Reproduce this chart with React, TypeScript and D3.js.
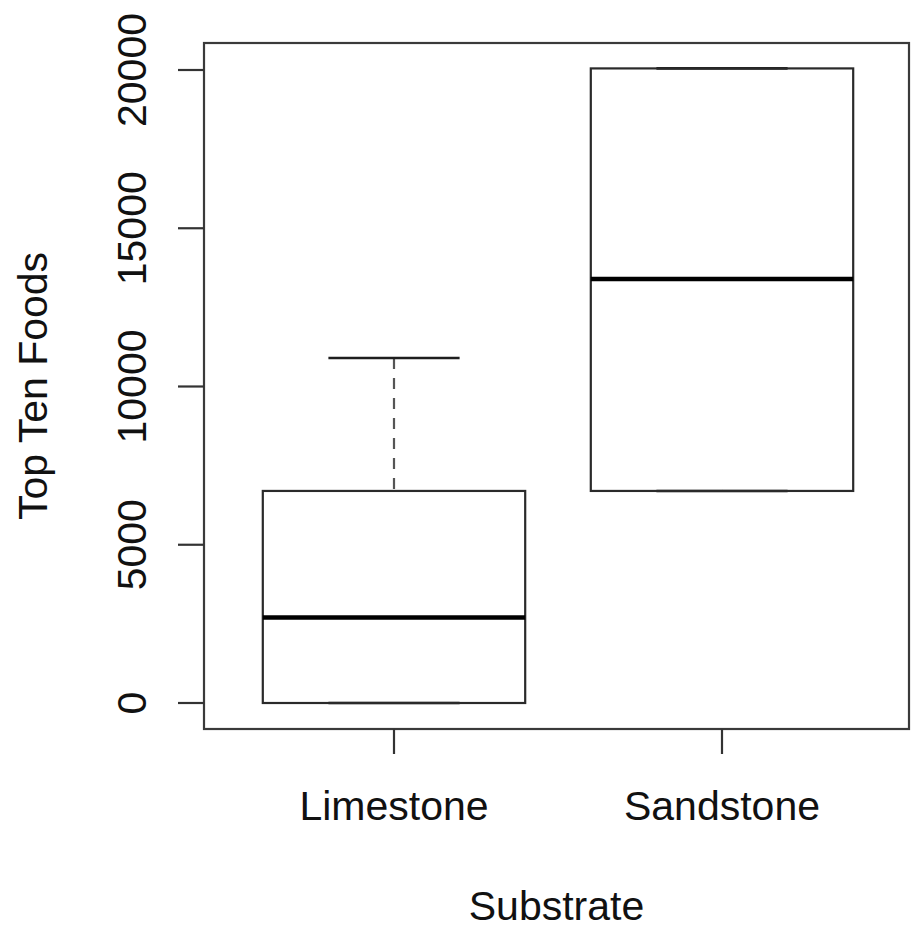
import React from "react";
import * as d3 from "d3";

const categories = ["Limestone", "Sandstone"];
const lowerWhisker = [0, 6700];
const q1 = [0, 6700];
const median = [2700, 13400];
const q3 = [6700, 20050];
const upperWhisker = [10900, 20050];
const yTicks = [0, 5000, 10000, 15000, 20000];
const xTitle = "Substrate";
const yTitle = "Top Ten Foods";

const W = 914;
const H = 929;
const frame = { left: 204, right: 909, top: 43, bottom: 729 };
const FONT = "'Liberation Sans', Arial, Helvetica, sans-serif";
const FS = 41;

export default function App() {
  const x = d3.scaleLinear().domain([1, 2]).range([394, 722]);
  const y = d3.scaleLinear().domain([0, 20000]).range([703, 70]);
  const unit = x(2) - x(1);
  const boxHalf = unit * 0.4;
  const capHalf = unit * 0.2;
  const boxStroke = "#2a2a2a";

  return (
    <svg
      width={W}
      height={H}
      style={{ position: "absolute", left: 0, top: 0, background: "#fff" }}
      fontFamily={FONT}
    >
      <rect x={0} y={0} width={W} height={H} fill="#fff" />
      {categories.map((c, i) => {
        const cx = x(i + 1);
        return (
          <g key={c}>
            <line
              x1={cx}
              x2={cx}
              y1={y(upperWhisker[i])}
              y2={y(q3[i])}
              stroke="#555"
              strokeWidth={2.2}
              strokeDasharray="11 9"
            />
            <line
              x1={cx}
              x2={cx}
              y1={y(lowerWhisker[i])}
              y2={y(q1[i])}
              stroke="#555"
              strokeWidth={2.2}
              strokeDasharray="11 9"
            />
            <line
              x1={cx - capHalf}
              x2={cx + capHalf}
              y1={y(upperWhisker[i])}
              y2={y(upperWhisker[i])}
              stroke="#1e1e1e"
              strokeWidth={2.6}
            />
            <line
              x1={cx - capHalf}
              x2={cx + capHalf}
              y1={y(lowerWhisker[i])}
              y2={y(lowerWhisker[i])}
              stroke="#1e1e1e"
              strokeWidth={2.6}
            />
            <rect
              x={cx - boxHalf}
              y={y(q3[i])}
              width={boxHalf * 2}
              height={y(q1[i]) - y(q3[i])}
              fill="none"
              stroke={boxStroke}
              strokeWidth={2.2}
            />
            <line
              x1={cx - boxHalf}
              x2={cx + boxHalf}
              y1={y(median[i])}
              y2={y(median[i])}
              stroke="#000"
              strokeWidth={4.5}
            />
          </g>
        );
      })}
      <rect
        x={frame.left}
        y={frame.top}
        width={frame.right - frame.left}
        height={frame.bottom - frame.top}
        fill="none"
        stroke="#3a3a3a"
        strokeWidth={2.2}
      />
      {yTicks.map((t) => (
        <g key={t}>
          <line x1={frame.left - 26} x2={frame.left} y1={y(t)} y2={y(t)} stroke="#333" strokeWidth={2.2} />
          <text
            transform={`translate(146,${y(t)}) rotate(-90)`}
            textAnchor="middle"
            fontSize={FS}
            fill="#111"
          >
            {String(t)}
          </text>
        </g>
      ))}
      {categories.map((c, i) => (
        <g key={c}>
          <line x1={x(i + 1)} x2={x(i + 1)} y1={frame.bottom} y2={frame.bottom + 25} stroke="#333" strokeWidth={2.2} />
          <text x={x(i + 1)} y={820} textAnchor="middle" fontSize={FS} fill="#111">
            {c}
          </text>
        </g>
      ))}
      <text x={(frame.left + frame.right) / 2} y={920} textAnchor="middle" fontSize={FS} fill="#111">
        {xTitle}
      </text>
      <text
        transform={`translate(47,${(frame.top + frame.bottom) / 2}) rotate(-90)`}
        textAnchor="middle"
        fontSize={FS}
        fill="#111"
      >
        {yTitle}
      </text>
    </svg>
  );
}
